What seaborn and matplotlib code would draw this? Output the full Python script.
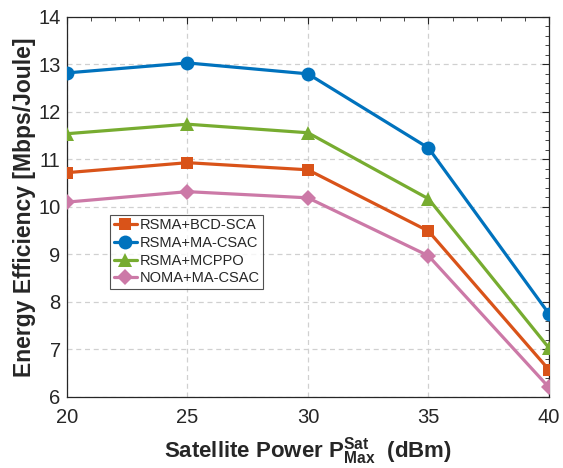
import numpy as np
import pandas as pd
import matplotlib
matplotlib.use("Agg")
import matplotlib.pyplot as plt
from matplotlib.ticker import MultipleLocator
import seaborn as sns

sns.set_theme(style="white")
plt.rcParams['font.family'] = ['Liberation Sans', 'DejaVu Sans']
plt.rcParams['mathtext.fontset'] = 'custom'
plt.rcParams['mathtext.rm'] = 'Liberation Sans'
plt.rcParams['mathtext.bf'] = 'Liberation Sans:bold'

power_dbm = [20, 25, 30, 35, 40]
rsma_bcd_sca = [10.72, 10.93, 10.78, 9.49, 6.57]
rsma_ma_csac = [12.82, 13.03, 12.80, 11.24, 7.75]
rsma_mcppo = [11.54, 11.74, 11.56, 10.17, 7.03]
noma_ma_csac = [10.10, 10.32, 10.19, 8.97, 6.20]

series_names = ["RSMA+BCD-SCA", "RSMA+MA-CSAC", "RSMA+MCPPO", "NOMA+MA-CSAC"]
series_values = [rsma_bcd_sca, rsma_ma_csac, rsma_mcppo, noma_ma_csac]

df = pd.DataFrame({
    "power": np.tile(power_dbm, len(series_names)),
    "ee": np.concatenate(series_values),
    "scheme": np.repeat(series_names, len(power_dbm)),
})

palette = {
    "RSMA+BCD-SCA": "#D95319",
    "RSMA+MA-CSAC": "#0072BD",
    "RSMA+MCPPO": "#77AC30",
    "NOMA+MA-CSAC": "#CC79A7",
}
markers = {
    "RSMA+BCD-SCA": "s",
    "RSMA+MA-CSAC": "o",
    "RSMA+MCPPO": "^",
    "NOMA+MA-CSAC": "D",
}
sizes = {"s": 9, "o": 10, "^": 10.5, "D": 8.5}

fig = plt.figure(figsize=(5.63, 4.68), dpi=100)
ax = fig.add_axes([0.119, 0.152, 0.856, 0.812])

for name in series_names:
    sub = df[df["scheme"] == name]
    m = markers[name]
    sns.lineplot(data=sub, x="power", y="ee", ax=ax, color=palette[name],
                 marker=m, markersize=sizes[m], markeredgewidth=0,
                 linewidth=2.3, label=name, zorder=3)

ax.set_xlim(20, 40)
ax.set_ylim(6, 14)
ax.xaxis.set_major_locator(MultipleLocator(5))
ax.xaxis.set_minor_locator(MultipleLocator(1))
ax.yaxis.set_major_locator(MultipleLocator(1))
ax.yaxis.set_minor_locator(MultipleLocator(0.2))
ax.tick_params(which="both", direction="in", top=True, right=True,
               colors="#262626", labelcolor="#262626", labelsize=14.5)
ax.tick_params(axis="x", which="major", pad=8)
ax.tick_params(axis="y", which="major", pad=4.5)
ax.tick_params(which="major", length=5, width=0.8)
ax.tick_params(which="minor", length=3, width=0.6)
ax.grid(True, which="major", linestyle=(0, (4, 3)), color="#d0d0d0", linewidth=0.9)
for sp in ax.spines.values():
    sp.set_color("#262626")
    sp.set_linewidth(0.9)

ax.set_xlabel(r"Satellite Power $\mathbf{P_{Max}^{Sat}}$  (dBm)",
              fontsize=16, fontweight="bold", color="#262626")
ax.set_ylabel("Energy Efficiency [Mbps/Joule]", fontsize=16.5,
              fontweight="bold", color="#262626")
ax.xaxis.set_label_coords(0.5, -0.101)
ax.yaxis.set_label_coords(-0.064, 0.5)

leg = ax.legend(loc="upper left", bbox_to_anchor=(0.089, 0.479), fontsize=10.5,
                frameon=True, fancybox=False, handlelength=1.6,
                handletextpad=0.2, borderpad=0.25, labelspacing=0.25,
                borderaxespad=0)
leg.get_frame().set_edgecolor("#262626")
leg.get_frame().set_linewidth(0.8)

fig.savefig("out.png", dpi=100)
